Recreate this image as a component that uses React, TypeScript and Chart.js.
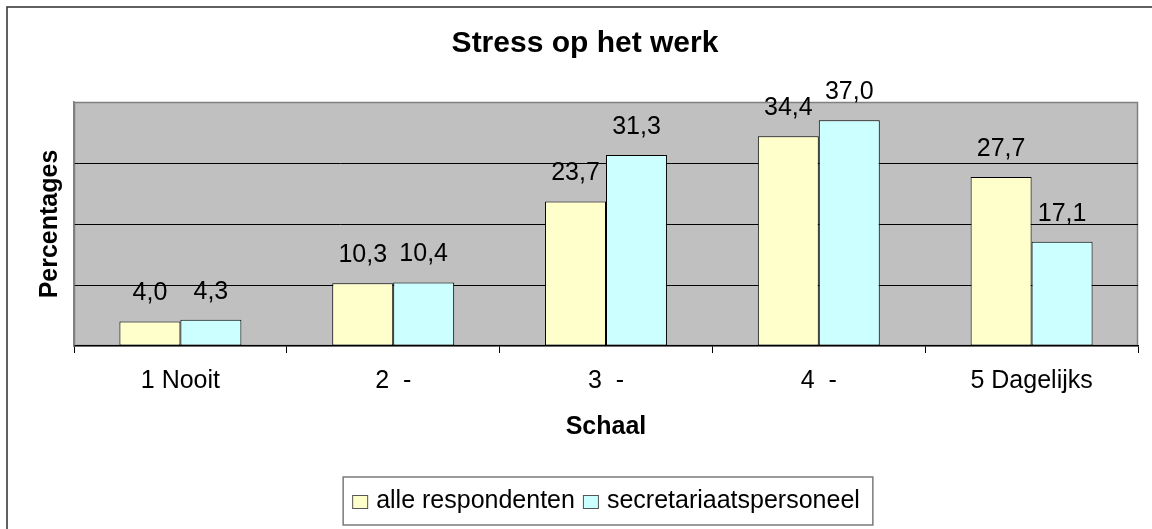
import React, { useEffect, useRef } from "react";
import { Chart, registerables } from "chart.js";

Chart.register(...registerables);

const TITLE = "Stress op het werk";
const X_TITLE = "Schaal";
const Y_TITLE = "Percentages";
const categories = ["1 Nooit", "2  -", "3  -", "4  -", "5 Dagelijks"];
const seriesLabels = ["alle respondenten", "secretariaatspersoneel"];
const alleRespondenten = [4.0, 10.3, 23.7, 34.4, 27.7];
const secretariaat = [4.3, 10.4, 31.3, 37.0, 17.1];
const seriesColors = ["#FFFFCC", "#CCFFFF"];
const Y_MIN = 0;
const Y_MAX = 40;
const Y_STEP = 10;

const FONT = '"Liberation Sans", Arial, Helvetica, sans-serif';

const framePlugin = {
  id: "framePlugin",
  beforeDraw(chart: any) {
    const { ctx, chartArea } = chart;
    ctx.save();
    ctx.fillStyle = "#FFFFFF";
    ctx.fillRect(0, 0, chart.width, chart.height);
    ctx.strokeStyle = "#3a3a3a";
    ctx.lineWidth = 1.6;
    ctx.strokeRect(7, 7, chart.width + 20, chart.height + 20);
    ctx.fillStyle = "#C0C0C0";
    ctx.fillRect(chartArea.left, chartArea.top, chartArea.right - chartArea.left, chartArea.bottom - chartArea.top);
    ctx.strokeStyle = "#808080";
    ctx.lineWidth = 1.5;
    ctx.strokeRect(chartArea.left + 0.5, chartArea.top + 0.5, chartArea.right - chartArea.left - 1, chartArea.bottom - chartArea.top - 1);
    ctx.restore();
  },
};

const labelPlugin = {
  id: "labelPlugin",
  afterDatasetsDraw(chart: any) {
    const { ctx } = chart;
    ctx.save();
    ctx.font = `25px ${FONT}`;
    ctx.fillStyle = "#000";
    ctx.textAlign = "center";
    ctx.textBaseline = "middle";
    chart.data.datasets.forEach((ds: any, di: number) => {
      const meta = chart.getDatasetMeta(di);
      meta.data.forEach((bar: any, i: number) => {
        const v = ds.data[i] as number;
        ctx.fillText(v.toFixed(1).replace(".", ","), bar.x, bar.y - 28);
      });
    });
    ctx.restore();
  },
};

const legendPlugin = {
  id: "customLegend",
  afterDraw(chart: any) {
    const { ctx, chartArea } = chart;
    ctx.save();
    ctx.font = `25px ${FONT}`;
    ctx.textBaseline = "middle";
    ctx.textAlign = "left";
    const sw = 16;
    const sh = 14;
    const gapText = 8;
    const gapItem = 8;
    const items = chart.data.datasets.map((ds: any) => ({
      text: ds.label as string,
      color: ds.backgroundColor as string,
      w: ctx.measureText(ds.label).width,
    }));
    let total = 0;
    items.forEach((it: any, i: number) => {
      total += sw + gapText + it.w + (i < items.length - 1 ? gapItem : 0);
    });
    const cx = (chartArea.left + chartArea.right) / 2;
    const cy = 501;
    const padX = 9;
    const boxLeft = cx - total / 2 - padX;
    const boxRight = cx + total / 2 + padX + 4;
    ctx.strokeStyle = "#7a7a7a";
    ctx.lineWidth = 1.5;
    ctx.strokeRect(boxLeft, cy - 24, boxRight - boxLeft, 48);
    let x = cx - total / 2;
    items.forEach((it: any) => {
      ctx.fillStyle = it.color;
      ctx.fillRect(x, cy - 6, sw, sh);
      ctx.strokeStyle = "#555";
      ctx.lineWidth = 1;
      ctx.strokeRect(x + 0.5, cy - 6 + 0.5, sw - 1, sh - 1);
      ctx.fillStyle = "#000";
      ctx.fillText(it.text, x + sw + gapText, cy);
      x += sw + gapText + it.w + gapItem;
    });
    ctx.restore();
  },
};

export default function App() {
  const ref = useRef<HTMLCanvasElement | null>(null);

  useEffect(() => {
    if (!ref.current) return;
    Chart.defaults.font.family = FONT;
    Chart.defaults.color = "#000";
    const chart = new Chart(ref.current, {
      type: "bar",
      data: {
        labels: categories,
        datasets: [
          {
            label: seriesLabels[0],
            data: alleRespondenten,
            backgroundColor: seriesColors[0],
            borderColor: "#000",
            borderWidth: 1,
            borderSkipped: false,
          },
          {
            label: seriesLabels[1],
            data: secretariaat,
            backgroundColor: seriesColors[1],
            borderColor: "#000",
            borderWidth: 1,
            borderSkipped: false,
          },
        ],
      },
      options: {
        responsive: true,
        maintainAspectRatio: false,
        animation: false,
        events: [],
        datasets: {
          bar: {
            categoryPercentage: 0.573,
            barPercentage: 1.0,
          },
        },
        layout: { padding: { left: 32, right: 14, top: 0, bottom: 83 } },
        plugins: {
          legend: { display: false },
          tooltip: { enabled: false },
          title: {
            display: true,
            text: TITLE,
            color: "#000",
            font: { size: 30, weight: "bold", family: FONT },
            padding: { top: 26, bottom: 40 },
          },
        },
        scales: {
          x: {
            afterFit: (s: any) => {
              s.height = 100;
            },
            grid: {
              offset: true,
              drawOnChartArea: false,
              drawTicks: true,
              tickLength: 7,
              color: "#000",
              lineWidth: 1,
            },
            border: { display: true, color: "#000", width: 1.5 },
            ticks: {
              color: "#000",
              font: { size: 25, family: FONT },
              padding: 13,
              maxRotation: 0,
              autoSkip: false,
            },
            title: {
              display: true,
              text: X_TITLE,
              color: "#000",
              font: { size: 25, weight: "bold", family: FONT },
              padding: { top: 0, bottom: 4 },
            },
          },
          y: {
            min: Y_MIN,
            max: Y_MAX,
            afterFit: (s: any) => {
              s.width = 42;
            },
            ticks: { display: false, stepSize: Y_STEP },
            grid: {
              drawTicks: false,
              color: (c: any) =>
                c.tick && c.tick.value > Y_MIN && c.tick.value < Y_MAX ? "#000" : "rgba(0,0,0,0)",
              lineWidth: 1,
            },
            border: { display: true, color: "#808080", width: 1.5 },
            title: {
              display: true,
              text: Y_TITLE,
              color: "#000",
              font: { size: 25, weight: "bold", family: FONT },
              padding: { top: 3, bottom: 0 },
            },
          },
        },
      },
      plugins: [framePlugin, labelPlugin, legendPlugin],
    });
    return () => chart.destroy();
  }, []);

  return (
    <div style={{ position: "absolute", left: 0, top: 0, width: 1152, height: 529 }}>
      <canvas ref={ref} />
    </div>
  );
}
